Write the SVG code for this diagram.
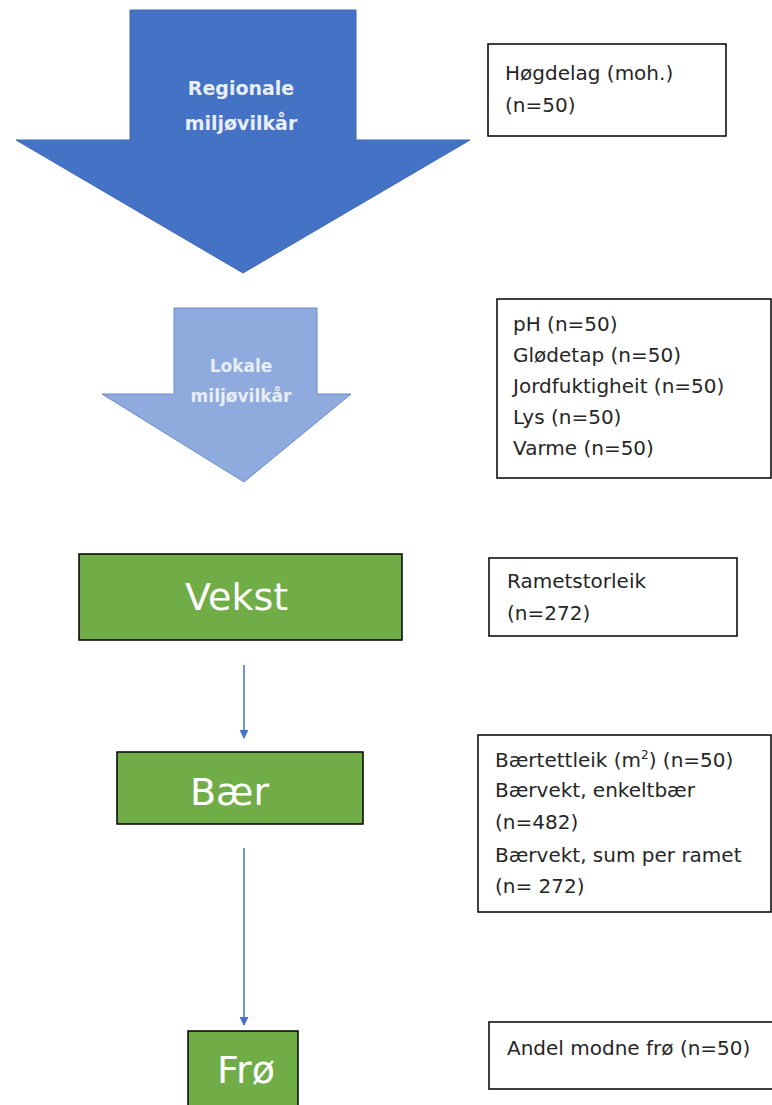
<svg xmlns="http://www.w3.org/2000/svg" width="772" height="1105" viewBox="0 0 772 1105">
<defs>
<marker id="ah" viewBox="0 0 10 10" refX="9" refY="5" markerWidth="9" markerHeight="9" orient="auto" markerUnits="userSpaceOnUse">
<path d="M0,0 L10,5 L0,10 z" fill="#4472C4"/>
</marker>
<style>
.info{fill:#fff;stroke:#000;stroke-width:1.5}
.it{font-family:"DejaVu Sans",sans-serif;font-size:20px;fill:#262626}
.green{fill:#70AD47;stroke:#000;stroke-width:1.5}
.gt{font-family:"DejaVu Sans",sans-serif;font-size:38px;fill:#fff}
.at{font-family:"DejaVu Sans",sans-serif;font-weight:bold;fill:#e8eef8;text-anchor:middle}
.conn{stroke:#4472C4;stroke-width:1.5;fill:none}
</style>
</defs>
<g id="regional">
<polygon points="130,10 356,10 356,140 470,140 243,273 16,140 130,140" fill="#4472C4" stroke="#3E68B5" stroke-width="1"/>
<text class="at" x="241" y="95" font-size="19">Regionale</text>
<text class="at" x="241" y="130" font-size="19">miljøvilkår</text>
</g>
<g id="hogdelag">
<rect class="info" x="488" y="44" width="238" height="92"/>
<text class="it" x="505" y="80">Høgdelag (moh.)</text>
<text class="it" x="505" y="112">(n=50)</text>
</g>
<g id="lokale">
<polygon points="174,308 317,308 317,394 351,394 244,482 102,394 174,394" fill="#8FAADC" stroke="#6B8CC8" stroke-width="1"/>
<text class="at" x="241" y="372" font-size="17">Lokale</text>
<text class="at" x="241" y="402" font-size="17">miljøvilkår</text>
</g>
<g id="lokale-info">
<rect class="info" x="497" y="299" width="274" height="179"/>
<text class="it" x="513" y="331">pH (n=50)</text>
<text class="it" x="513" y="362">Glødetap (n=50)</text>
<text class="it" x="513" y="393">Jordfuktigheit (n=50)</text>
<text class="it" x="513" y="424">Lys (n=50)</text>
<text class="it" x="513" y="455">Varme (n=50)</text>
</g>
<g id="vekst">
<rect class="green" x="79" y="554" width="323" height="86"/>
<text class="gt" x="185" y="610">Vekst</text>
</g>
<g id="vekst-info">
<rect class="info" x="489" y="558" width="248" height="78"/>
<text class="it" x="507" y="588">Rametstorleik</text>
<text class="it" x="507" y="620">(n=272)</text>
</g>
<g id="baer">
<rect class="green" x="117" y="752" width="246" height="72"/>
<text class="gt" x="190" y="805">Bær</text>
</g>
<g id="baer-info">
<rect class="info" x="478" y="735" width="293" height="177"/>
<text class="it" x="495" y="767">Bærtettleik (m<tspan font-size="12" dy="-8">2</tspan><tspan dy="8">) (n=50)</tspan></text>
<text class="it" x="495" y="797">Bærvekt, enkeltbær</text>
<text class="it" x="495" y="829">(n=482)</text>
<text class="it" x="495" y="862">Bærvekt, sum per ramet</text>
<text class="it" x="495" y="893">(n= 272)</text>
</g>
<g id="fro">
<rect class="green" x="188" y="1031" width="110" height="80"/>
<text class="gt" x="217" y="1083">Frø</text>
</g>
<g id="fro-info">
<rect class="info" x="489" y="1022" width="290" height="67"/>
<text class="it" x="507" y="1055">Andel modne frø (n=50)</text>
</g>
<g id="connectors">
<line class="conn" x1="244" y1="665" x2="244" y2="738" marker-end="url(#ah)"/>
<line class="conn" x1="244" y1="848" x2="244" y2="1025" marker-end="url(#ah)"/>
</g>
</svg>
